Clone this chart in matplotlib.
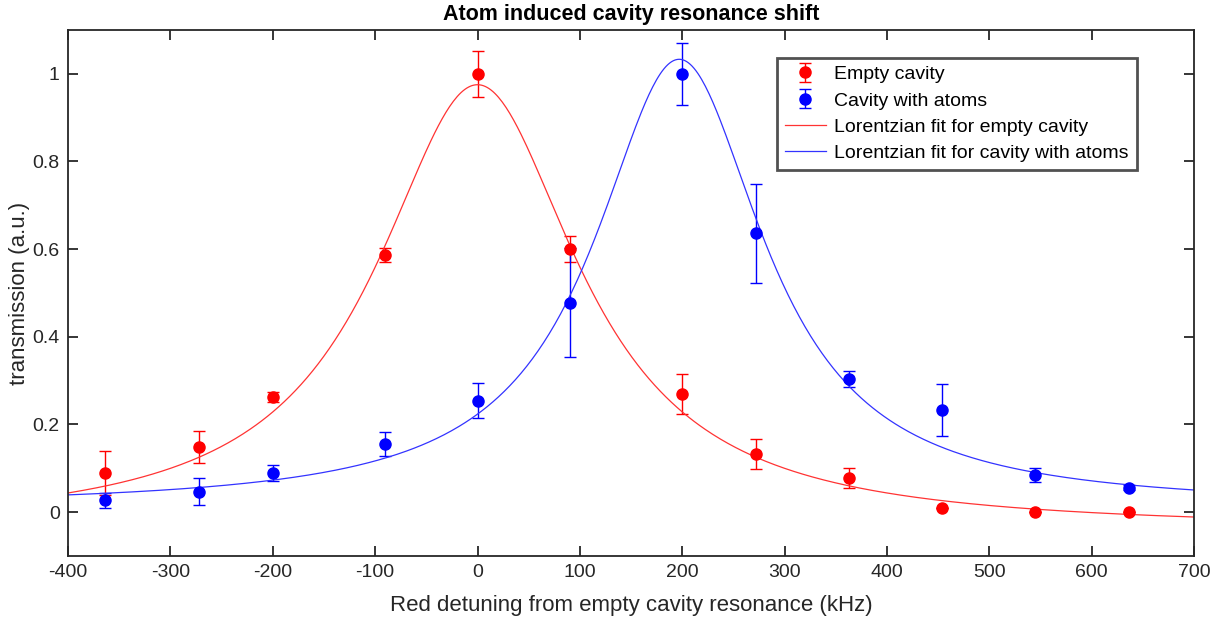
import matplotlib

matplotlib.use("Agg")
import matplotlib.pyplot as plt
import numpy as np

plt.rcParams["font.family"] = ["Liberation Sans", "DejaVu Sans"]

# detuning (kHz) of the measured points
detuning = [-364, -272, -200, -90, 0, 90, 200, 272, 363, 454, 545, 636]

empty_values = [0.089, 0.149, 0.263, 0.586, 1.0, 0.600, 0.270, 0.133, 0.078, 0.010, 0.001, 0.0]
empty_errors = [0.050, 0.037, 0.012, 0.016, 0.052, 0.030, 0.045, 0.034, 0.023, 0.0, 0.0, 0.0]

atoms_values = [0.027, 0.047, 0.090, 0.155, 0.254, 0.478, 1.0, 0.636, 0.304, 0.233, 0.085, 0.056]
atoms_errors = [0.017, 0.030, 0.018, 0.027, 0.040, 0.125, 0.071, 0.113, 0.019, 0.060, 0.016, 0.006]

# Lorentzian fit parameters: centre, half width, amplitude, offset
empty_fit = (0.0, 120.0, 1.015, -0.040)
atoms_fit = (197.0, 101.0, 1.022, 0.011)

x_ticks = [-400, -300, -200, -100, 0, 100, 200, 300, 400, 500, 600, 700]
y_ticks = [0, 0.2, 0.4, 0.6, 0.8, 1]


def lorentzian(x, centre, width, amplitude, offset):
    return offset + amplitude / (1.0 + ((x - centre) / width) ** 2)


fig = plt.figure(figsize=(12.26, 6.23), dpi=100)
ax = fig.add_axes([0.0555, 0.1075, 0.9185, 0.8445])

empty_pts = ax.errorbar(detuning, empty_values, yerr=empty_errors, fmt="o", color="#ff0000",
                        markersize=8, capsize=4, elinewidth=1.0, capthick=1.0)
atoms_pts = ax.errorbar(detuning, atoms_values, yerr=atoms_errors, fmt="o", color="#0000ff",
                        markersize=8, capsize=4, elinewidth=1.0, capthick=1.0)

grid = np.linspace(-400, 700, 600)
(empty_line,) = ax.plot(grid, lorentzian(grid, *empty_fit), color="#ff3333", linewidth=0.9)
(atoms_line,) = ax.plot(grid, lorentzian(grid, *atoms_fit), color="#3333ff", linewidth=0.9)

ax.set_xlim(-400, 700)
ax.set_ylim(-0.1, 1.1)
ax.set_xticks(x_ticks)
ax.set_xticklabels([str(t) for t in x_ticks])
ax.set_yticks(y_ticks)
ax.set_yticklabels([f"{t:g}" for t in y_ticks])

for spine in ax.spines.values():
    spine.set_color("#262626")
    spine.set_linewidth(1.3)
ax.tick_params(direction="in", length=7, width=1.3, colors="#262626",
               labelsize=14, top=True, right=True, pad=6)

ax.set_xlabel("Red detuning from empty cavity resonance (kHz)", fontsize=16, color="#262626", labelpad=10)
ax.set_ylabel("transmission (a.u.)", fontsize=16, color="#262626", labelpad=2)
ax.set_title("Atom induced cavity resonance shift", fontsize=15.5, fontweight="bold", pad=7)

legend = ax.legend(
    [empty_pts, atoms_pts, empty_line, atoms_line],
    ["Empty cavity", "Cavity with atoms", "Lorentzian fit for empty cavity",
     "Lorentzian fit for cavity with atoms"],
    loc="upper right", bbox_to_anchor=(0.949, 0.947), fontsize=14,
    frameon=True, fancybox=False, borderaxespad=0, handlelength=2.1,
    handletextpad=0.45, labelspacing=0.45, borderpad=0.4)
legend.get_frame().set_edgecolor("#262626")
legend.get_frame().set_linewidth(2.0)

fig.savefig("out.png", dpi=100)
plt.close(fig)
